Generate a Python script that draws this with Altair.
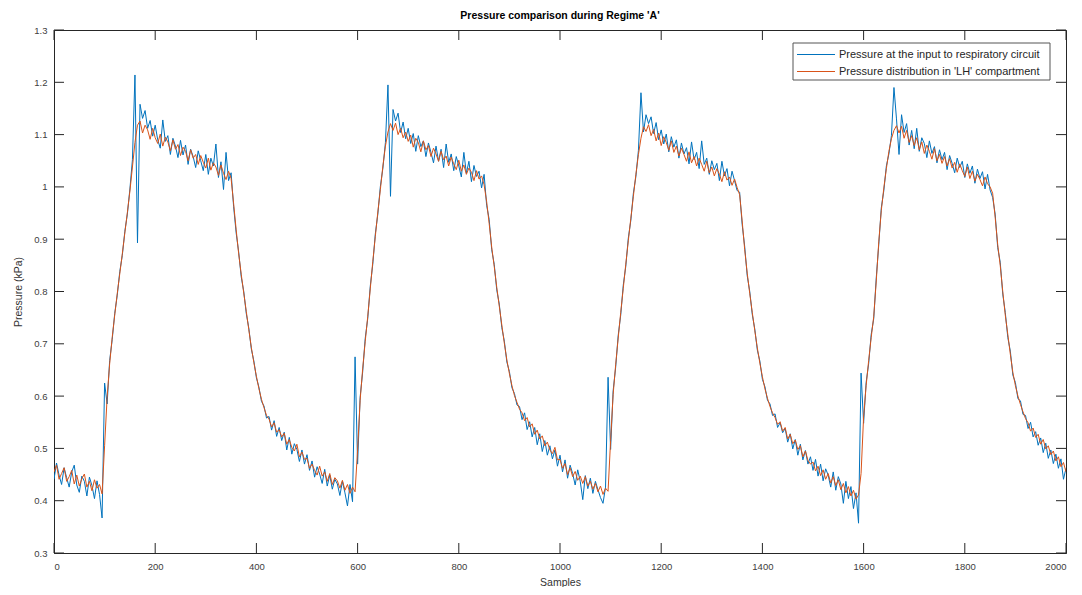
import altair as alt
import pandas as pd

# ---------------- data (one value every 5 samples) -------------
step_samples = list(range(0, 2001, 5))

series_names = ["Pressure at the input to respiratory circuit",
                "Pressure distribution in 'LH' compartment"]

x_ticks = [0, 200, 400, 600, 800, 1000, 1200, 1400, 1600, 1800, 2000]
y_ticks = [0.3, 0.4, 0.5, 0.6, 0.7, 0.8, 0.9, 1.0, 1.1, 1.2, 1.3]

# input pressure (blue), samples 0..495
inp_c1 = [0.441, 0.472, 0.449, 0.431, 0.463, 0.444, 0.426, 0.455, 0.468, 0.430,
          0.416, 0.447, 0.437, 0.409, 0.445, 0.429, 0.404, 0.438, 0.412, 0.367,
          0.625, 0.585, 0.668, 0.708, 0.758, 0.793, 0.838, 0.869, 0.915, 0.948,
          0.996, 1.052, 1.214, 0.893,
          1.158, 1.131, 1.146, 1.112, 1.127, 1.097, 1.118, 1.090, 1.074, 1.128,
          1.087, 1.098, 1.062, 1.093, 1.078, 1.056, 1.089, 1.061, 1.080, 1.043,
          1.072, 1.058, 1.037, 1.069, 1.050, 1.031, 1.062, 1.024, 1.055, 1.040,
          1.082, 1.018, 1.048, 0.995, 1.066, 1.012, 1.027,
          0.962, 0.912, 0.875, 0.828, 0.800, 0.758, 0.730, 0.690, 0.667, 0.635,
          0.617, 0.590, 0.581, 0.558,
          0.561, 0.535, 0.553, 0.523, 0.540, 0.515, 0.531, 0.497, 0.521, 0.489,
          0.509, 0.498, 0.475, 0.497, 0.470]
# samples 500..995
inp_c2 = [0.488, 0.458, 0.476, 0.445, 0.465, 0.451, 0.433, 0.460, 0.428, 0.449,
          0.422, 0.441, 0.432, 0.410, 0.437, 0.415, 0.390, 0.431, 0.398, 0.675,
          0.470, 0.598, 0.646, 0.710, 0.748, 0.810, 0.852, 0.910, 0.948, 1.001,
          1.036, 1.085, 1.195, 0.982,
          1.148, 1.126, 1.141, 1.104, 1.124, 1.092, 1.112, 1.083, 1.102, 1.068,
          1.098, 1.077, 1.088, 1.058, 1.084, 1.066, 1.046, 1.078, 1.049, 1.072,
          1.037, 1.082, 1.047, 1.063, 1.031, 1.058, 1.040, 1.019, 1.066, 1.026,
          1.049, 1.010, 1.041, 1.020, 1.030, 0.998, 1.024,
          0.965, 0.938, 0.880, 0.852, 0.803, 0.776, 0.731, 0.705, 0.665, 0.647,
          0.616, 0.605, 0.583, 0.580,
          0.555, 0.568, 0.536, 0.551, 0.522, 0.540, 0.507, 0.528, 0.494, 0.515,
          0.487, 0.505, 0.480, 0.497, 0.466]
# samples 1000..1495
inp_c3 = [0.487, 0.455, 0.478, 0.443, 0.468, 0.452, 0.430, 0.459, 0.437, 0.402,
          0.448, 0.423, 0.443, 0.414, 0.437, 0.421, 0.406, 0.395, 0.426, 0.636,
          0.498, 0.610, 0.655, 0.716, 0.755, 0.812, 0.848, 0.902, 0.936, 0.988,
          1.020, 1.070, 1.180, 1.105,
          1.138, 1.121, 1.134, 1.102, 1.123, 1.090, 1.109, 1.082, 1.101, 1.067,
          1.096, 1.076, 1.090, 1.055, 1.084, 1.063, 1.075, 1.044, 1.086, 1.052,
          1.066, 1.035, 1.088, 1.043, 1.055, 1.024, 1.050, 1.033, 1.045, 1.012,
          1.049, 1.021, 1.035, 1.002, 1.030, 1.012, 0.993,
          0.990, 0.928, 0.886, 0.830, 0.800, 0.756, 0.728, 0.688, 0.667, 0.632,
          0.618, 0.592, 0.585, 0.563,
          0.566, 0.540, 0.549, 0.530, 0.538, 0.512, 0.528, 0.499, 0.517, 0.487,
          0.508, 0.478, 0.496, 0.470, 0.484]
# samples 1500..2000
inp_c4 = [0.458, 0.479, 0.447, 0.470, 0.438, 0.461, 0.449, 0.426, 0.455, 0.420,
          0.446, 0.432, 0.395, 0.437, 0.404, 0.427, 0.385, 0.415, 0.357,
          0.644, 0.548, 0.626, 0.662, 0.718, 0.748, 0.826, 0.890, 0.960, 0.993,
          1.040, 1.063, 1.098, 1.190, 1.130,
          1.062, 1.138, 1.104, 1.121, 1.080, 1.108, 1.073, 1.112, 1.068, 1.094,
          1.083, 1.056, 1.088, 1.064, 1.077, 1.046, 1.071, 1.052, 1.066, 1.033,
          1.060, 1.045, 1.027, 1.055, 1.037, 1.049, 1.018, 1.044, 1.026, 1.040,
          1.007, 1.034, 1.016, 1.029, 0.996, 1.024, 0.994,
          0.980, 0.948, 0.884, 0.856, 0.795, 0.760, 0.712, 0.686, 0.640, 0.626,
          0.595, 0.591, 0.565, 0.563,
          0.538, 0.550, 0.522, 0.532, 0.506, 0.520, 0.492, 0.510, 0.481, 0.497,
          0.471, 0.489, 0.462, 0.480, 0.441, 0.462]

# LH compartment pressure (orange), samples 0..495
lh_c1 = [0.455, 0.468, 0.441, 0.452, 0.463, 0.437, 0.446, 0.458, 0.432, 0.449,
         0.428, 0.442, 0.451, 0.426, 0.437, 0.419, 0.440, 0.424, 0.431, 0.413,
         0.505, 0.598, 0.662, 0.712, 0.755, 0.796, 0.834, 0.872, 0.912, 0.951,
         0.992, 1.038, 1.085, 1.118,
         1.126, 1.103, 1.118, 1.109, 1.091, 1.112, 1.094, 1.083, 1.101, 1.078,
         1.095, 1.086, 1.069, 1.090, 1.072, 1.081, 1.060, 1.076, 1.068, 1.050,
         1.071, 1.055, 1.062, 1.043, 1.060, 1.047, 1.036, 1.055, 1.032, 1.046,
         1.038, 1.022, 1.042, 1.026, 1.014, 1.030, 1.016,
         0.968, 0.918, 0.872, 0.833, 0.797, 0.762, 0.727, 0.693, 0.664, 0.638,
         0.614, 0.594, 0.578, 0.563,
         0.556, 0.541, 0.549, 0.531, 0.536, 0.522, 0.529, 0.508, 0.517, 0.502,
         0.495, 0.508, 0.484, 0.493, 0.479]
lh_c2 = [0.481, 0.462, 0.470, 0.458, 0.449, 0.466, 0.447, 0.455, 0.437, 0.452,
         0.431, 0.444, 0.438, 0.424, 0.439, 0.420, 0.431, 0.414, 0.426, 0.417,
         0.497, 0.592, 0.652, 0.704, 0.752, 0.805, 0.857, 0.905, 0.952, 0.995,
         1.040, 1.078, 1.105, 1.121,
         1.108, 1.122, 1.100, 1.112, 1.094, 1.105, 1.087, 1.099, 1.076, 1.093,
         1.085, 1.067, 1.088, 1.071, 1.079, 1.058, 1.074, 1.063, 1.049, 1.068,
         1.052, 1.059, 1.040, 1.057, 1.044, 1.033, 1.051, 1.030, 1.042, 1.024,
         1.036, 1.028, 1.012, 1.031, 1.015, 1.021, 1.004,
         0.972, 0.930, 0.885, 0.848, 0.808, 0.772, 0.736, 0.701, 0.669, 0.643,
         0.620, 0.601, 0.588, 0.575,
         0.568, 0.553, 0.559, 0.541, 0.547, 0.527, 0.535, 0.518, 0.524, 0.505,
         0.512, 0.497, 0.490, 0.502, 0.478]
lh_c3 = [0.479, 0.462, 0.471, 0.450, 0.463, 0.446, 0.456, 0.439, 0.447, 0.433,
         0.446, 0.428, 0.437, 0.422, 0.433, 0.417, 0.428, 0.412, 0.424, 0.418,
         0.515, 0.603, 0.660, 0.711, 0.760, 0.806, 0.852, 0.897, 0.940, 0.982,
         1.024, 1.062, 1.093, 1.115,
         1.106, 1.119, 1.098, 1.110, 1.088, 1.103, 1.079, 1.096, 1.085, 1.070,
         1.088, 1.066, 1.078, 1.059, 1.074, 1.062, 1.049, 1.067, 1.046, 1.058,
         1.040, 1.055, 1.043, 1.030, 1.049, 1.027, 1.038, 1.021, 1.035, 1.024,
         1.010, 1.029, 1.013, 1.019, 1.003, 1.015, 0.999,
         0.985, 0.935, 0.880, 0.835, 0.796, 0.760, 0.725, 0.692, 0.663, 0.637,
         0.614, 0.596, 0.580, 0.568,
         0.559, 0.546, 0.551, 0.533, 0.540, 0.518, 0.527, 0.509, 0.516, 0.498,
         0.505, 0.484, 0.495, 0.477, 0.470]
lh_c4 = [0.474, 0.457, 0.466, 0.448, 0.459, 0.441, 0.452, 0.434, 0.446, 0.429,
         0.440, 0.421, 0.433, 0.415, 0.427, 0.409, 0.420, 0.403, 0.411,
         0.452, 0.560, 0.620, 0.668, 0.712, 0.752, 0.820, 0.895, 0.955, 0.998,
         1.035, 1.068, 1.092, 1.108, 1.117,
         1.103, 1.116, 1.093, 1.108, 1.085, 1.098, 1.079, 1.094, 1.071, 1.086,
         1.064, 1.080, 1.068, 1.053, 1.073, 1.050, 1.062, 1.045, 1.058, 1.040,
         1.054, 1.036, 1.047, 1.028, 1.044, 1.031, 1.020, 1.038, 1.016, 1.030,
         1.011, 1.024, 1.014, 1.002, 1.019, 1.006, 1.000,
         0.988, 0.942, 0.890, 0.850, 0.800, 0.755, 0.718, 0.680, 0.645, 0.620,
         0.600, 0.584, 0.570, 0.557,
         0.549, 0.533, 0.539, 0.521, 0.527, 0.508, 0.517, 0.499, 0.505, 0.488,
         0.495, 0.476, 0.484, 0.465, 0.473, 0.455]

# ---------------- build tables ----------------
inp_vals = inp_c1 + inp_c2 + inp_c3 + inp_c4
lh_vals = lh_c1 + lh_c2 + lh_c3 + lh_c4
assert len(inp_vals) == len(step_samples) == len(lh_vals)

df_inp = pd.DataFrame({"sample": step_samples, "pressure": inp_vals, "series": series_names[0]})
df_lh = pd.DataFrame({"sample": step_samples, "pressure": lh_vals, "series": series_names[1]})
df_xt = pd.DataFrame({"sample": x_ticks})
df_yt = pd.DataFrame({"pressure": y_ticks})
df_leg1 = pd.DataFrame({"series": [series_names[0]]})
df_leg2 = pd.DataFrame({"series": [series_names[1]]})

W, H = 1012, 523
TICK = 10
FONT = "Liberation Sans"
BOX = "#262626"

xscale = alt.Scale(domain=[0, 2000], nice=False, zero=False)
yscale = alt.Scale(domain=[0.3, 1.3], nice=False, zero=False)
cscale = alt.Scale(domain=series_names, range=["#0072BD", "#D95319"])

x_axis = alt.Axis(values=x_ticks, format="d", title="Samples", titleY=29,
                  titleBaseline="middle", labelPadding=8, grid=False, ticks=False,
                  titleFontWeight="normal")
y_axis = alt.Axis(values=y_ticks, format=".1~f", title="Pressure (kPa)",
                  titleX=-36, titleY=H / 2, titleAlign="center",
                  titleBaseline="middle", labelPadding=7, grid=False, ticks=False,
                  titleFontWeight="normal")


def line_layer(df):
    return alt.Chart(df).mark_line(strokeWidth=1, clip=True).encode(
        x=alt.X("sample:Q", scale=xscale, axis=x_axis),
        y=alt.Y("pressure:Q", scale=yscale, axis=y_axis),
        color=alt.Color("series:N", scale=cscale, legend=None),
    )


line_inp = line_layer(df_inp)
line_lh = line_layer(df_lh)

bottom_ticks = alt.Chart(df_xt).mark_rule(color=BOX, strokeWidth=1).encode(
    x=alt.X("sample:Q", scale=xscale, axis=x_axis),
    y=alt.value(H), y2=alt.value(H - TICK))
top_ticks = alt.Chart(df_xt).mark_rule(color=BOX, strokeWidth=1).encode(
    x=alt.X("sample:Q", scale=xscale, axis=x_axis),
    y=alt.value(0), y2=alt.value(TICK))
left_ticks = alt.Chart(df_yt).mark_rule(color=BOX, strokeWidth=1).encode(
    y=alt.Y("pressure:Q", scale=yscale, axis=y_axis),
    x=alt.value(0), x2=alt.value(TICK))
right_ticks = alt.Chart(df_yt).mark_rule(color=BOX, strokeWidth=1).encode(
    y=alt.Y("pressure:Q", scale=yscale, axis=y_axis),
    x=alt.value(W), x2=alt.value(W - TICK))

# legend drawn by hand (box, line samples, labels)
LX0, LX1, LY0, LY1 = 739, 996, 13, 50
ROW1, ROW2 = 24.5, 41.5
leg_box = alt.Chart(df_leg1).mark_rect(fill="white", stroke="#555555", strokeWidth=1).encode(
    x=alt.value(LX0), x2=alt.value(LX1), y=alt.value(LY0), y2=alt.value(LY1))


def leg_row(df, yrow):
    ln = alt.Chart(df).mark_rule(strokeWidth=1).encode(
        x=alt.value(LX0 + 4), x2=alt.value(LX0 + 42), y=alt.value(yrow),
        color=alt.Color("series:N", scale=cscale, legend=None))
    tx = alt.Chart(df).mark_text(align="left", baseline="middle", font=FONT,
                                 fontSize=11, color="#262626").encode(
        x=alt.value(LX0 + 46), y=alt.value(yrow), text="series:N")
    return ln + tx


chart = alt.layer(
    line_inp, line_lh, bottom_ticks, top_ticks, left_ticks, right_ticks,
    leg_box, leg_row(df_leg1, ROW1), leg_row(df_leg2, ROW2)
).properties(
    width=W, height=H,
    title=alt.TitleParams("Pressure comparison during Regime 'A'", anchor="middle",
                          frame="group", font=FONT, fontSize=10.5, fontWeight="bold",
                          color="#000000", offset=4),
    autosize=alt.AutoSizeParams(type="none"),
    padding={"left": 46, "top": 22, "right": 8, "bottom": 34},
    background="white",
).configure_view(
    stroke=BOX, strokeWidth=1
).configure_axis(
    grid=False, ticks=False, tickSize=0, domainColor=BOX, domainWidth=1,
    labelFont=FONT, labelFontSize=9.5, labelColor="#404040",
    titleFont=FONT, titleFontSize=10.5, titleFontWeight="normal", titleColor="#333333",
)

chart.save("out.html", embed_options={"renderer": "svg", "actions": False})
